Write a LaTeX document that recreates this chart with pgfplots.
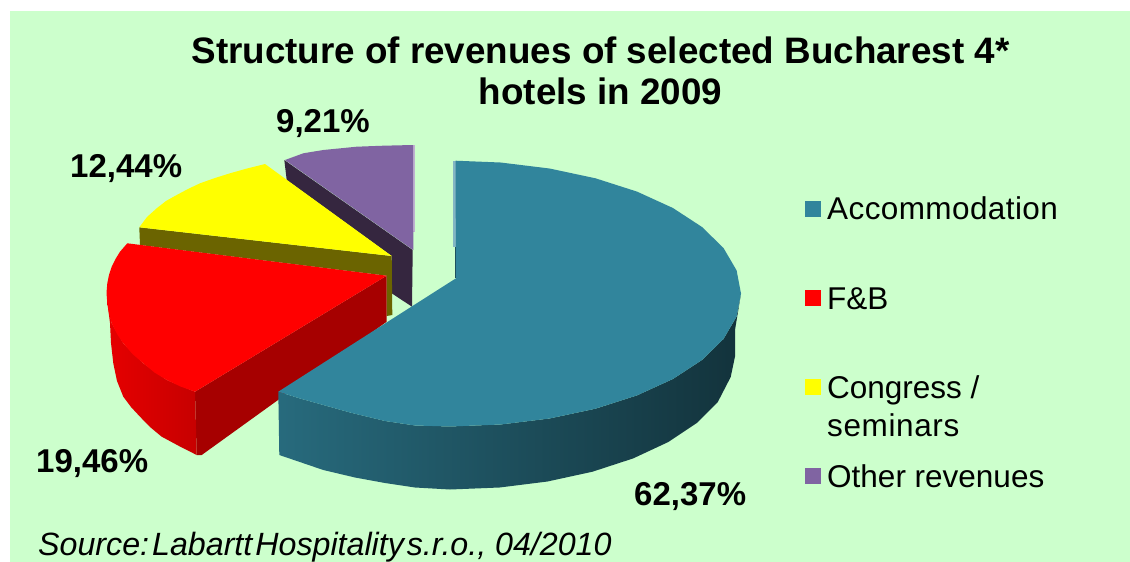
\documentclass[border=0pt]{standalone}
\usepackage{fontspec}
\setmainfont{Liberation Sans}
\usepackage{pgfplots}
\pgfplotsset{compat=1.18}

\definecolor{bgreen}{HTML}{CCFFCC}
\definecolor{teal1}{HTML}{31859C}
\definecolor{purp1}{HTML}{8064A2}
\definecolor{purpdark}{HTML}{35263F}
\definecolor{olive1}{HTML}{6B6400}
\definecolor{reddark}{HTML}{A60000}
\definecolor{yell}{HTML}{FFFF00}
\definecolor{redtop}{HTML}{FF0000}

\newcommand{\titlefont}{\fontsize{36.8}{41}\selectfont\bfseries}
\newcommand{\valfont}{\fontsize{33}{38}\selectfont\bfseries}
\newcommand{\legfont}{\fontsize{31.5}{38}\selectfont}

\begin{document}
\begin{tikzpicture}
\begin{axis}[
  scale only axis,
  width=1130pt,
  height=562pt,
  xmin=0, xmax=1130,
  ymin=0, ymax=562,
  y dir=reverse,
  hide axis,
  clip=true,
  every axis plot/.append style={no markers, forget plot, draw=none},
]
% page and background
\addplot[fill=white] coordinates {(0,0) (1130,0) (1130,562) (0,562)};
\addplot[fill=bgreen] coordinates {(10,11) (1130,11) (1130,562) (10,562)};

% other revenues, 9,21
\addplot[fill=purpdark] coordinates {(284.3,160) (412.7,250) (412,306.7) (391.7,293.3) (391.7,256) (286.7,180)};
\addplot[fill=purp1!50!white] coordinates {(412.5,145) (415,145) (415,232) (412.5,232)};
\addplot[fill=purp1] coordinates {(285,160) (303.3,153.3) (323.3,150) (356.7,146.7) (383.3,145.7) (413,145) (413.3,250)};

% congress / seminars, 12,44
\addplot[fill=olive1] coordinates {(139.3,227.3) (391.7,256) (392.3,315) (386.7,316) (386.7,275.7) (140,245)};
\addplot[fill=yell] coordinates {(391.7,256) (139.3,227.3) (147,217) (156.7,208.3) (166,201) (176.7,195) (188,189) (200,183.3) (215,178) (230,173.3) (247,168.5) (265,164)};

% F&B, 19,46
\addplot[fill=reddark] coordinates {(195,391.7) (386.7,275.7) (386.7,321.7) (201.7,455) (196.7,455)};
\addplot[left color=redtop!90!black, right color=redtop!78!black] coordinates {(107,300) (110,323) (111,343) (113.3,363.3) (117,381) (123.3,396.7) (131,407) (140,416.7) (150,427) (161.7,436.7) (179,446) (196.7,455) (195,391.7) (166.7,380) (143.3,363.3) (123.3,343.3) (111.7,323.3)};
\addplot[fill=redtop] coordinates {(127.3,243.3) (386.7,275.7) (195,391.7) (180.5,386.5) (166.7,380) (154.5,372.5) (143.3,363.3) (132.5,354) (123.3,343.3) (117,334) (111.7,323.3) (109,313.5) (107.3,303.3) (106.5,293) (107.3,283.3) (109,275) (111.7,266.7) (115.5,259) (120,251.7)};

% accommodation, 62,37
\addplot[left color=teal1!80!black, middle color=teal1!52!black, right color=teal1!38!black] coordinates {(741,293.5) (736.6,316.6) (723.5,339) (702,360) (672.9,379) (637,395.4) (595.5,408.7) (549.5,418.5) (500.5,424.5) (450,426.5) (415,425.5) (385,421) (350,412.5) (323.3,405) (300,398.5) (278.3,391.7) (279.3,455) (323.3,470) (355,477.5) (385,483) (415,487.5) (450,489.5) (499.5,487.5) (547.5,481.5) (592.5,471.7) (633.2,458.4) (668.3,442) (696.8,423) (717.8,402) (730.7,377) (735,356.5) (735,330)};
\addplot[fill=teal1!60!white] coordinates {(453.3,160.7) (456,160.7) (456,247) (453.3,247)};
\addplot[fill=teal1!55!black] coordinates {(455,247) (457.5,247) (457.5,278) (455,278)};
\addplot[fill=teal1] coordinates {(455.5,160.7) (500.5,162.5) (549.5,168.5) (595.5,178.3) (637,191.6) (672.9,208) (702,227) (723.5,248) (736.6,270.4) (741,293.5) (736.6,316.6) (723.5,339) (702,360) (672.9,379) (637,395.4) (595.5,408.7) (549.5,418.5) (500.5,424.5) (450,426.5) (415,425.5) (385,421) (350,412.5) (323.3,405) (300,398.5) (278.3,391.7) (380,326.7) (456,278.3)};

% legend swatches
\addplot[fill=teal1] coordinates {(805,201) (821,201) (821,217) (805,217)};
\addplot[fill=redtop] coordinates {(805,290) (821,290) (821,306) (805,306)};
\addplot[fill=yell] coordinates {(805,379) (821,379) (821,395) (805,395)};
\addplot[fill=purp1] coordinates {(805,468) (821,468) (821,484) (805,484)};

% title
\node[anchor=base, font=\titlefont] at (axis cs:600.5,63) {Structure of revenues of selected Bucharest 4*};
\node[anchor=base, font=\titlefont] at (axis cs:600.5,104) {hotels in 2009};

% value labels
\node[anchor=base west, font=\valfont, inner sep=0pt] at (axis cs:276,132) {9,21\%};
\node[anchor=base west, font=\valfont, inner sep=0pt] at (axis cs:70,177) {12,44\%};
\node[anchor=base west, font=\valfont, inner sep=0pt] at (axis cs:36,472) {19,46\%};
\node[anchor=base west, font=\valfont, inner sep=0pt] at (axis cs:634,505) {62,37\%};

% legend text
\node[anchor=base west, font=\legfont, inner sep=0pt] at (axis cs:827,219) {\addfontfeatures{LetterSpace=1.3}Accommodation};
\node[anchor=base west, font=\legfont, inner sep=0pt] at (axis cs:827,309) {F\&B};
\node[anchor=base west, font=\legfont, inner sep=0pt] at (axis cs:827,398) {Congress /};
\node[anchor=base west, font=\legfont, inner sep=0pt] at (axis cs:827,436) {\addfontfeatures{LetterSpace=2}seminars};
\node[anchor=base west, font=\legfont, inner sep=0pt] at (axis cs:827,487) {Other revenues};

% source
\node[anchor=base west, font=\fontsize{32.2}{38}\selectfont\itshape, inner sep=0pt] at (axis cs:38,555) {Source:\hspace{3pt}Labartt\hspace{3pt}Hospitality\hspace{3pt}s.r.o.,\ 04/2010};
\end{axis}
\end{tikzpicture}
\end{document}
